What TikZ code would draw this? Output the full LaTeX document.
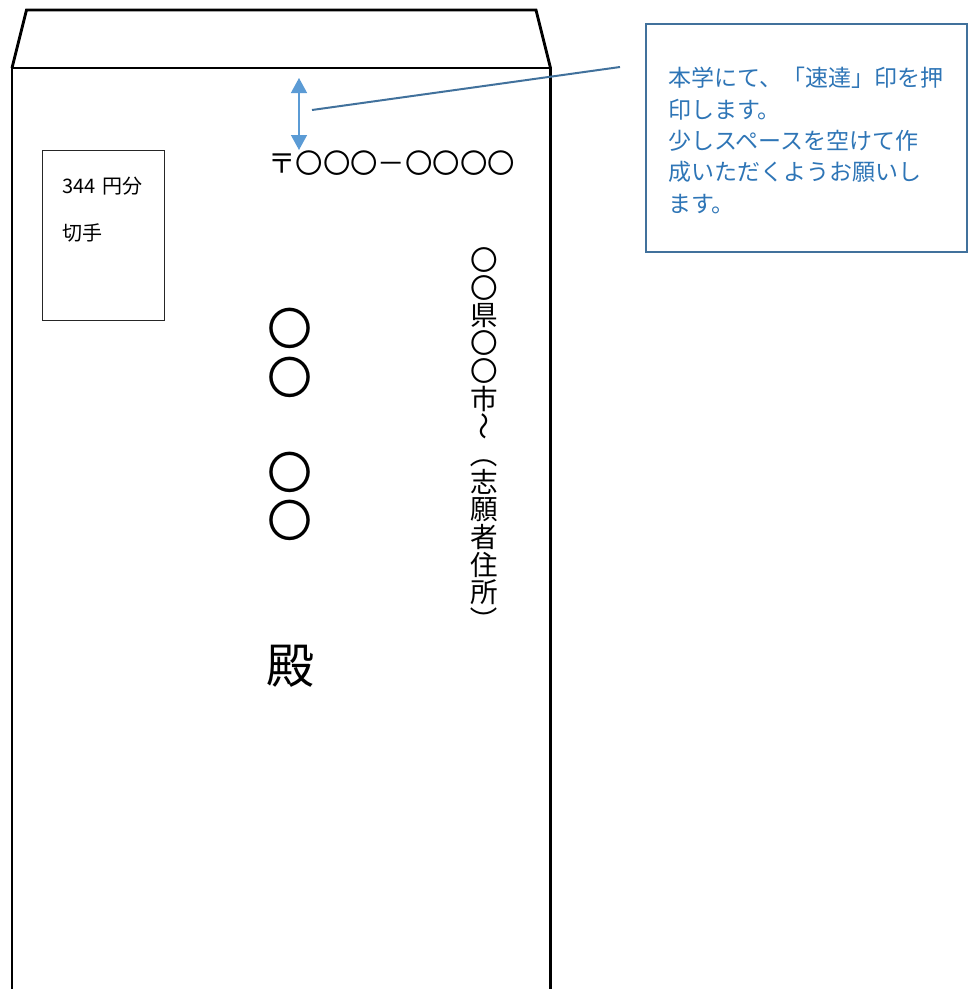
\documentclass[tikz,border=0pt]{standalone}
\usepackage{fontspec}
\newfontfamily\jp{Noto Sans CJK JP}
\usetikzlibrary{arrows.meta}
\definecolor{callborder}{HTML}{41719C}
\definecolor{calltext}{HTML}{2E75B6}
\definecolor{arrowblue}{HTML}{5B9BD5}
\begin{document}
\begin{tikzpicture}[x=1pt,y=-1pt,
  envline/.style={line width=2.8pt,line join=miter,black},
  stampbox/.style={draw=black!85,line width=1pt,minimum width=122pt,minimum height=170pt,inner sep=0pt},
  stamptext/.style={font=\jp\fontsize{20pt}{20pt}\selectfont,anchor=west,inner sep=0pt},
  vchar/.style={font=\jp\fontsize{27.6pt}{27.6pt}\selectfont,inner sep=0pt,text height=24.3pt,text depth=3.3pt,text width=27.6pt,align=center},
  bigchar/.style={font=\jp\fontsize{45pt}{45pt}\selectfont,inner sep=0pt,text height=39.6pt,text depth=5.4pt},
  dono/.style={font=\jp\fontsize{48pt}{48pt}\selectfont,inner sep=0pt,text height=42.2pt,text depth=5.8pt},
  postal/.style={font=\jp\fontsize{27.4pt}{27.4pt}\selectfont,inner sep=0pt,text height=24.1pt,text depth=3.3pt,anchor=west},
  callbox/.style={draw=callborder,line width=2pt,minimum width=321pt,minimum height=228pt,inner sep=0pt},
  calltextstyle/.style={font=\jp\fontsize{23pt}{31.3pt}\selectfont,text=calltext,align=left,inner sep=0pt,anchor=north west},
  leader/.style={draw=callborder,line width=2pt},
  gaparrow/.style={draw=arrowblue,line width=1.4pt,{Triangle[length=15pt,width=16pt]}-{Triangle[length=15pt,width=16pt]},arrowblue}
]
\useasboundingbox (0,0) rectangle (971,989);
% envelope
\draw[envline] (12,68) -- (26.5,10) -- (536,10) -- (550.5,68);
\draw[envline] (12,995) -- (12,68) -- (550.5,68) -- (550.5,995);
% stamp
\node[stampbox] (stamp) at (103,235) {};
\node[stamptext] (stampa) at (62,186) {344\,\,円分};
\node[stamptext] (stampb) at (62,233) {切手};
% postal code
\node[postal] (zip) at (268,163.5) {〒〇〇〇－〇〇〇〇};
% addressee name
\node[bigchar] (n1) at (290,328) {〇};
\node[bigchar] (n2) at (290,377) {〇};
\node[bigchar] (n3) at (290,472) {〇};
\node[bigchar] (n4) at (290,520) {〇};
\node[dono] (donochar) at (290,665) {殿};
% vertical address
\foreach \c/\r [count=\i] in {〇/0,〇/0,県/0,〇/0,〇/0,市/0,〜/-90,（/-90,志/0,願/0,者/0,住/0,所/0,）/-90}
  \node[vchar,rotate=\r] (addr\i) at (484,{260+27.7*(\i-1)}) {\c};
% gap arrow and leader
\coordinate (gaptop) at (299,78);
\coordinate (gapbot) at (299,150);
\draw[gaparrow] (gaptop) -- (gapbot);
\coordinate (leadstart) at (312,110);
\coordinate (leadend) at (620,67);
\draw[leader] (leadstart) -- (leadend);
% callout
\node[callbox] (box) at (806.5,138) {};
\node[calltextstyle] (note) at (668,66.5) {\rule{0pt}{20.2pt}本学にて、「速達」印を押\\印します。\\少しスペースを空けて作\\成いただくようお願いし\\ます。};
\end{tikzpicture}
\end{document}
